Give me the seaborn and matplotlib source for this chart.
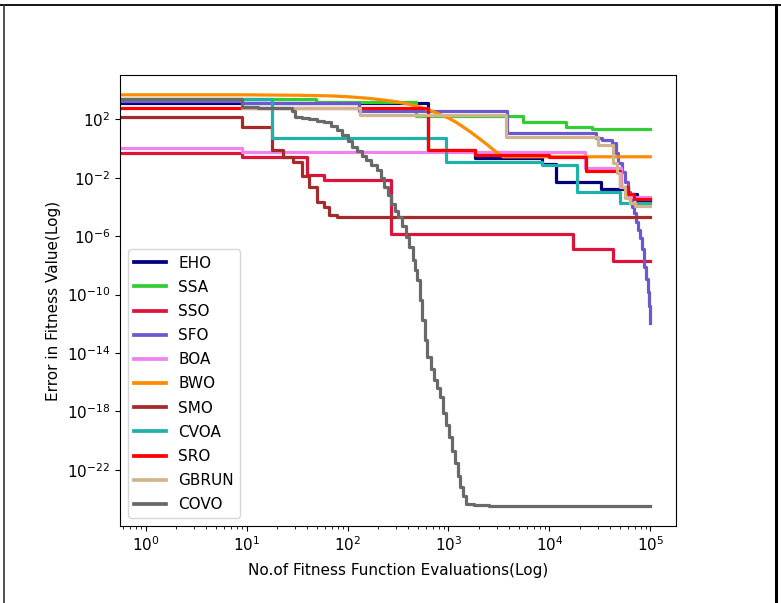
import numpy as np
import pandas as pd
import matplotlib
matplotlib.use("Agg")
import matplotlib.pyplot as plt
from matplotlib.lines import Line2D
from matplotlib.ticker import NullLocator
import seaborn as sns

plt.rcParams["font.family"] = ["DejaVu Sans"]
plt.rcParams["font.size"] = 11

# ---------------- data ----------------
names = ["EHO", "SSA", "SSO", "SFO", "BOA", "BWO", "SMO", "CVOA", "SRO", "GBRUN", "COVO"]
colors = ["#000080", "#32CD32", "#DC143C", "#6A5ACD", "#EE82EE", "#FF8C00",
          "#A52A2A", "#20B2AA", "#FF0000", "#D2B48C", "#696969"]

eho_x = [0, 631, 1820, 8510, 11750, 32400, 60300, 74100, 100000]
eho_y = [1.26e3, 0.78, 0.21, 0.093, 5.1e-3, 1.8e-3, 8.1e-4, 3.2e-4, 3.2e-4]

ssa_x = [0, 49, 479, 5500, 14450, 26300, 100000]
ssa_y = [2.6e3, 1.5e3, 178, 69, 31.6, 20.4, 20.4]

sso_x = [0, 9, 40, 58, 269, 17000, 42700, 100000]
sso_y = [0.46, 0.27, 0.0148, 7.1e-3, 1.32e-6, 1.38e-7, 2.1e-8, 2.1e-8]

sfo_x = [0, 9, 129, 3800, 28800, 33100, 41700, 45700, 47900, 52500, 56200, 60300,
         63100, 66100, 69200, 72400, 75900, 79400, 83200, 87100, 91200, 94400, 97700, 100000]
sfo_y = [1.8e3, 1.26e3, 398, 12, 5.6, 3.8, 2.24, 0.5, 0.1, 0.025, 5e-3, 1.1e-3,
         3.2e-4, 1e-4, 3.8e-5, 1e-5, 2.5e-6, 7.9e-7, 1.26e-7, 7.9e-9, 1.26e-9, 1.6e-10, 1.6e-11, 1.05e-12]

boa_x = [0, 9, 22400, 51300, 57500, 100000]
boa_y = [1.05, 0.56, 0.045, 2.5e-3, 5e-4, 5e-4]

bwo_x = [0, 10, 32, 66, 100, 158, 224, 302, 398, 501, 646, 794, 1000, 1175, 1380,
         1660, 2000, 2400, 2820, 3160, 3470, 100000]
bwo_y = [4.8e3, 4.7e3, 4.4e3, 4.0e3, 3.5e3, 2.75e3, 2.1e3, 1.6e3, 1.1e3, 741, 427, 240,
         120, 66, 31.6, 13.2, 5.0, 1.9, 0.76, 0.42, 0.27, 0.27]

smo_x = [0, 9, 18, 23, 29, 35, 42, 50, 58, 66, 79, 100000]
smo_y = [138, 28, 0.78, 0.27, 0.123, 0.0126, 2.3e-3, 2.1e-4, 1e-4, 2.6e-5, 1.9e-5, 1.9e-5]

cvoa_x = [0, 18, 955, 8510, 18600, 50100, 100000]
cvoa_y = [2.4e3, 5.5, 0.123, 0.08, 1e-3, 1.9e-4, 1.9e-4]

sro_x = [0, 9, 631, 1820, 10000, 22900, 50100, 60300, 69200, 100000]
sro_y = [631, 560, 0.79, 0.355, 0.25, 0.028, 2.5e-3, 7.9e-4, 3.5e-4, 3.5e-4]

gbrun_x = [0, 9, 132, 3715, 30200, 42700, 46800, 50100, 56200, 63100, 70800, 100000]
gbrun_y = [2.5e3, 562, 200, 5.9, 1.74, 0.1, 0.02, 2.5e-3, 4e-4, 2e-4, 1.1e-4, 1.1e-4]

covo_x = [0, 9, 13, 28, 30, 35, 42, 50, 58, 68, 79, 89, 100, 110, 123, 138, 151, 170,
          195, 214, 229, 251, 269, 295, 316, 347, 380, 407, 447, 468, 490, 525, 550,
          589, 617, 676, 724, 776, 832, 891, 955, 1023, 1096, 1148, 1230, 1288, 1380,
          1479, 1778, 2512, 100000]
covo_y = [2.5e3, 741, 562, 398, 151, 126, 100, 79, 63, 35, 18.6, 8.9, 3.16, 1.32, 0.63,
          0.316, 0.158, 0.079, 0.0316, 0.01, 2.5e-3, 6.3e-4, 1.66e-4, 5e-5, 2e-5, 5e-6,
          9.1e-7, 1.74e-7, 2.3e-8, 5e-9, 1e-9, 4e-11, 1.78e-12, 7.9e-14, 5.5e-15, 7.9e-16,
          1.38e-16, 4e-17, 1e-17, 7.9e-19, 1.26e-19, 1.8e-20, 2e-21, 2.75e-22, 4e-23,
          6.9e-24, 1.6e-24, 5e-25, 3.8e-25, 3.55e-25, 3.55e-25]

series_x = [eho_x, ssa_x, sso_x, sfo_x, boa_x, bwo_x, smo_x, cvoa_x, sro_x, gbrun_x, covo_x]
series_y = [eho_y, ssa_y, sso_y, sfo_y, boa_y, bwo_y, smo_y, cvoa_y, sro_y, gbrun_y, covo_y]
smooth = {"BWO"}

# ---------------- figure ----------------
fig = plt.figure(figsize=(7.81, 6.03), dpi=100)
ax = fig.add_axes([120 / 781, 1 - 526 / 603, (676 - 120) / 781, (526 - 75) / 603])

LW = 2.3
for name, col, xs, ys in zip(names, colors, series_x, series_y):
    df = pd.DataFrame({"x": xs, "y": ys})
    ds = "default" if name in smooth else "steps-post"
    sns.lineplot(data=df, x="x", y="y", ax=ax, color=col, lw=LW, label=name,
                 estimator=None, sort=False, drawstyle=ds, legend=False)

ax.set_xscale("log")
ax.set_yscale("log")
ax.set_xlim(10 ** -0.254, 10 ** 5.254)
ax.set_ylim(10 ** -25.84, 10 ** 5.03)
ax.set_xticks([10.0 ** k for k in range(0, 6)])
ax.set_yticks([10.0 ** k for k in range(2, -23, -4)])
ax.yaxis.set_minor_locator(NullLocator())

ax.set_xlabel("No.of Fitness Function Evaluations(Log)", labelpad=6)
ax.set_ylabel("Error in Fitness Value(Log)")

handles = [Line2D([], [], color=c, lw=LW + 0.4) for c in colors]
ax.legend(handles, names, loc="lower left", fontsize=11, labelspacing=0.6,
          handlelength=2.1)

# outer frame lines of the picture
fig.add_artist(Line2D([0, 1], [1 - 5 / 603, 1 - 5 / 603], transform=fig.transFigure,
                      color="black", lw=1.3))
fig.add_artist(Line2D([4 / 781, 4 / 781], [0, 1 - 5 / 603], transform=fig.transFigure,
                      color="#333333", lw=1.2))
fig.add_artist(Line2D([775.5 / 781, 775.5 / 781], [0, 1 - 5 / 603], transform=fig.transFigure,
                      color="black", lw=2.2))

fig.savefig("out.png", dpi=100)
